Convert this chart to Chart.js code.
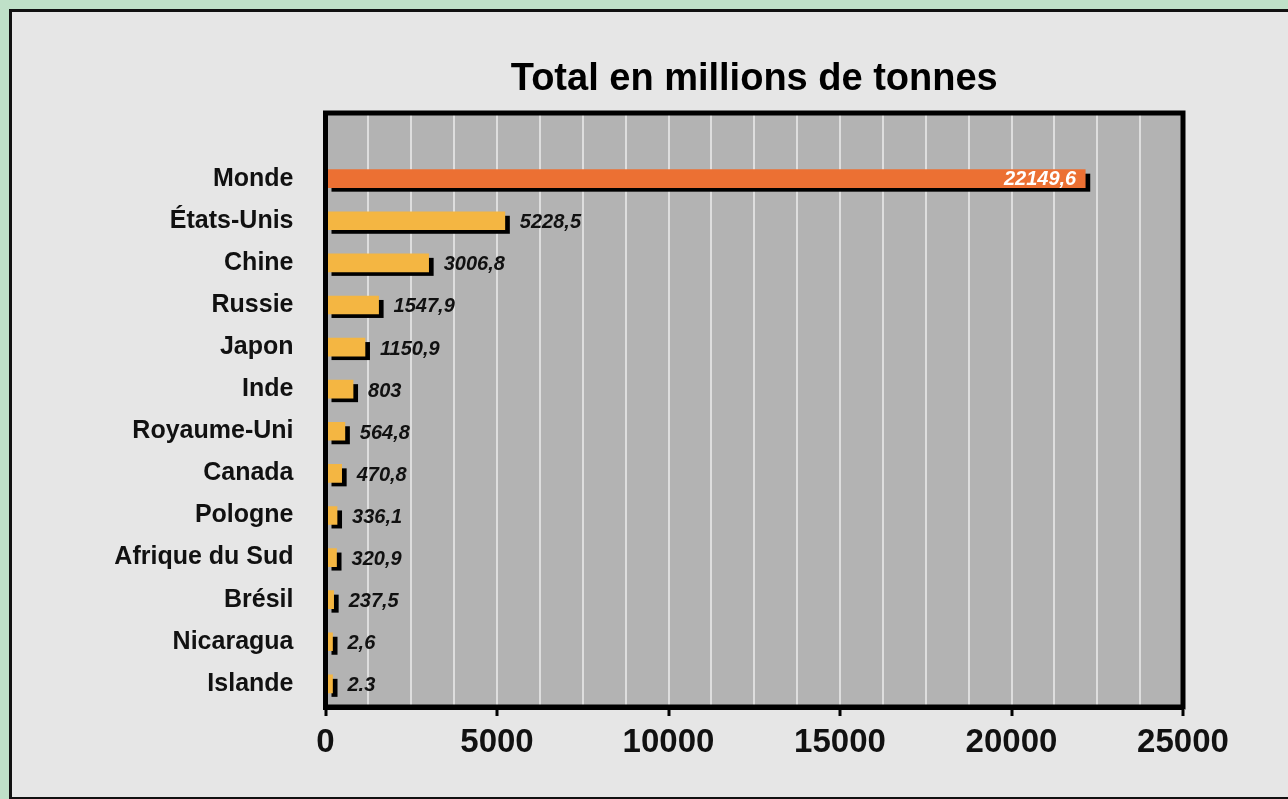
<!DOCTYPE html>
<html lang="fr">
<head>
<meta charset="utf-8">
<title>Total en millions de tonnes</title>
<script src="https://cdn.jsdelivr.net/npm/chart.js@4.4.1/dist/chart.umd.min.js"></script>
<style>
  html, body { margin: 0; padding: 0; background: #bfe0c8; overflow: hidden; }
  #wrap { width: 1288px; height: 799px; position: relative; }
</style>
</head>
<body>
<div id="wrap"><canvas id="chart"></canvas></div>
<script>
// ===== Data =====
const categories = ["Monde", "États-Unis", "Chine", "Russie", "Japon", "Inde", "Royaume-Uni",
    "Canada", "Pologne", "Afrique du Sud", "Brésil", "Nicaragua", "Islande"];
const values = [22149.6, 5228.5, 3006.8, 1547.9, 1150.9, 803, 564.8, 470.8, 336.1, 320.9, 237.5, 2.6, 2.3];
const valueLabels = ["22149,6", "5228,5", "3006,8", "1547,9", "1150,9", "803", "564,8",
    "470,8", "336,1", "320,9", "237,5", "2,6", "2.3"];
const xTicks = [0, 5000, 10000, 15000, 20000, 25000];

const FONT = "'Liberation Sans', Arial, sans-serif";

// page frame + grey plot area
const framePlugin = {
    id: "frame",
    beforeDraw(chart) {
        const { ctx, width, height, chartArea: a } = chart;
        ctx.save();
        ctx.fillStyle = "#bfe0c8";
        ctx.fillRect(0, 0, width, height);
        ctx.fillStyle = "#111";
        ctx.fillRect(9, 9, width - 9, height - 9);
        ctx.fillStyle = "#e6e6e6";
        ctx.fillRect(12, 12, width - 12, height - 14);
        ctx.fillStyle = "#b3b3b3";
        ctx.fillRect(a.left, a.top, a.right - a.left, a.bottom - a.top);
        ctx.restore();
    },
    afterDraw(chart) {
        const { ctx, chartArea: a } = chart;
        ctx.save();
        ctx.strokeStyle = "#000";
        ctx.lineWidth = 5;
        ctx.strokeRect(a.left, a.top, a.right - a.left, a.bottom - a.top);
        ctx.restore();
    }
};

// black drop shadow behind each bar
const shadowPlugin = {
    id: "barShadow",
    beforeDatasetsDraw(chart) {
        const { ctx } = chart;
        const meta = chart.getDatasetMeta(0);
        ctx.save();
        ctx.fillStyle = "#000";
        meta.data.forEach(bar => {
            const p = bar.getProps(["x", "y", "base", "height"], true);
            ctx.fillRect(p.base + 5, p.y - p.height / 2 + 4, p.x - p.base, p.height);
        });
        ctx.restore();
    }
};

// value labels
const labelPlugin = {
    id: "valueLabels",
    afterDatasetsDraw(chart) {
        const { ctx } = chart;
        const meta = chart.getDatasetMeta(0);
        ctx.save();
        ctx.font = "italic bold 20px " + FONT;
        ctx.textBaseline = "middle";
        meta.data.forEach((bar, i) => {
            if (i === 0) {
                ctx.fillStyle = "#fff";
                ctx.textAlign = "right";
                ctx.fillText(valueLabels[i], bar.x - 9, bar.y + 1);
            } else {
                ctx.fillStyle = "#111";
                ctx.textAlign = "left";
                ctx.fillText(valueLabels[i], bar.x + 15, bar.y + 2);
            }
        });
        ctx.restore();
    }
};

new Chart(document.getElementById("chart"), {
    type: "bar",
    data: {
        datasets: [{
            data: values.map((v, i) => ({ x: v, y: i })),
            backgroundColor: ctx => ctx.dataIndex === 0 ? "#ec7033" : "#f4b642",
            borderWidth: 0,
            barThickness: 18,
            minBarLength: 7
        }]
    },
    options: {
        indexAxis: "y",
        responsive: true,
        maintainAspectRatio: false,
        devicePixelRatio: 1,
        animation: false,
        layout: { padding: { left: 0, right: 105, top: 0, bottom: 0 } },
        scales: {
            x: {
                type: "linear",
                min: 0,
                max: 25000,
                afterBuildTicks: s => {
                    const t = [];
                    for (let v = 0; v <= 25000; v += 1250) t.push({ value: v });
                    s.ticks = t;
                },
                afterFit: s => { s.height = 92; },
                ticks: {
                    autoSkip: false,
                    maxRotation: 0,
                    padding: 7,
                    color: "#111",
                    font: { family: FONT, size: 33, weight: "bold" },
                    callback: v => xTicks.includes(v) ? String(v) : ""
                },
                grid: {
                    color: "#dedede",
                    lineWidth: 2,
                    drawTicks: true,
                    tickLength: 9,
                    tickWidth: 3,
                    tickColor: c => (c.tick && xTicks.includes(c.tick.value)) ? "#000" : "rgba(0,0,0,0)"
                },
                border: { display: true, color: "#000", width: 5 }
            },
            y: {
                type: "linear",
                reverse: true,
                offset: false,
                min: -1.56,
                max: 12.55,
                afterBuildTicks: s => { s.ticks = categories.map((c, i) => ({ value: i })); },
                afterFit: s => { s.width = 325.5; },
                ticks: {
                    autoSkip: false,
                    padding: 32,
                    color: "#111",
                    font: { family: FONT, size: 25, weight: "bold" },
                    callback: v => categories[v] !== undefined ? categories[v] : ""
                },
                grid: { display: false, drawTicks: false },
                border: { display: true, color: "#000", width: 5 }
            }
        },
        plugins: {
            legend: { display: false },
            tooltip: { enabled: false },
            title: {
                display: true,
                fullSize: false,
                text: "Total en millions de tonnes",
                color: "#000",
                font: { family: FONT, size: 38, weight: "bold", lineHeight: 1.2 },
                padding: { top: 57, bottom: 10.4 }
            }
        }
    },
    plugins: [framePlugin, shadowPlugin, labelPlugin]
});
</script>
</body>
</html>
